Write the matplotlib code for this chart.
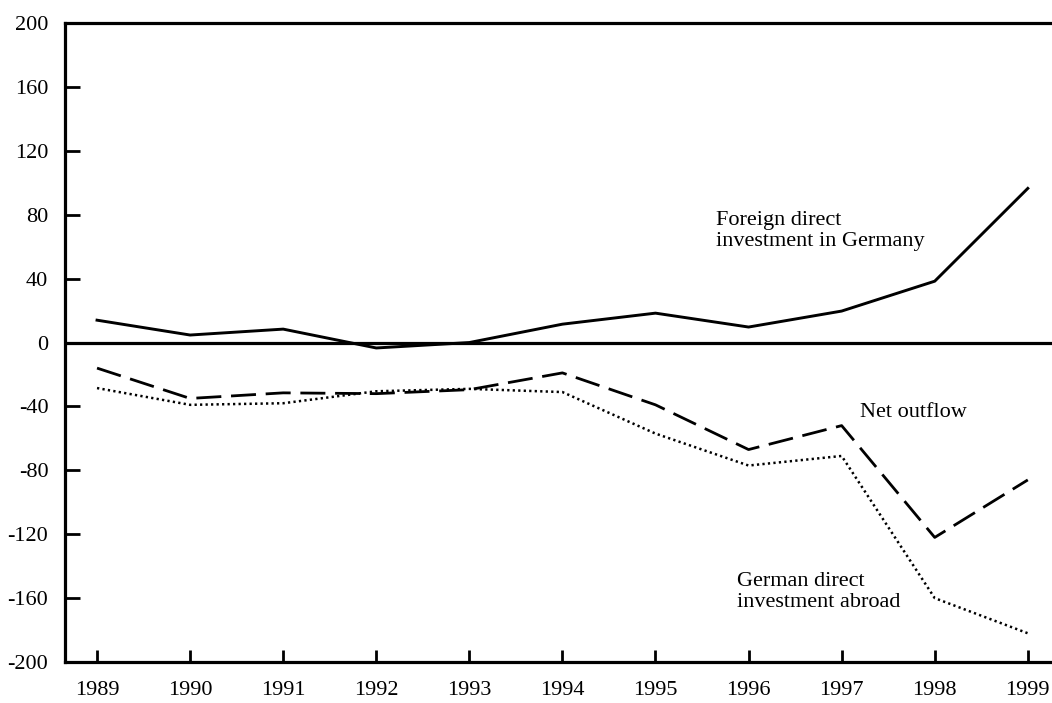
import matplotlib
matplotlib.use('Agg')
import matplotlib.pyplot as plt

# data (billions)
years = [1989, 1990, 1991, 1992, 1993, 1994, 1995, 1996, 1997, 1998, 1999]
foreign_in_germany = [14, 4.7, 8.4, -3.4, 0, 11.5, 18.4, 9.7, 19.7, 38.4, 96.5]
net_outflow = [-16, -35, -31.5, -32, -29.5, -19, -39, -67, -52, -122, -86]
german_abroad = [-28.5, -39, -38, -30.5, -29, -31, -57, -77, -71, -160, -182]
y_ticks = [-200, -160, -120, -80, -40, 0, 40, 80, 120, 160, 200]

plt.rcParams['font.family'] = ['Liberation Serif', 'DejaVu Serif']

fig = plt.figure(figsize=(10.52, 7.03), dpi=100)
ax = fig.add_axes([0.0618, 0.0583, 0.9382, 0.9089])

ax.plot(years, foreign_in_germany, color='black', lw=2.1)
ax.plot(years, net_outflow, color='black', lw=2.0, dashes=(9, 3.5))
ax.plot(years, german_abroad, color='black', lw=1.8, dashes=(0.9, 1.3))
ax.axhline(0, color='black', lw=2.3)

ax.set_xlim(1988.656, 1999.26)
ax.set_ylim(-200, 200)
ax.set_xticks(years)
ax.set_yticks(y_ticks)
ax.set_yticklabels([str(v) for v in y_ticks])

ax.tick_params(axis='x', direction='in', length=9, width=2, pad=14, labelsize=16)
ax.tick_params(axis='y', direction='in', length=11, width=2, pad=12, labelsize=16)

for side in ['left', 'bottom', 'top']:
    ax.spines[side].set_linewidth(2.3)
ax.spines['right'].set_visible(False)

ax.text(1995.65, 70, 'Foreign direct\ninvestment in Germany', fontsize=16,
        ha='left', va='center', linespacing=1.15)
ax.text(1997.2, -44, 'Net outflow', fontsize=16, ha='left', va='center')
ax.text(1995.88, -156, 'German direct\ninvestment abroad', fontsize=16,
        ha='left', va='center', linespacing=1.15)

fig.savefig('out.png', dpi=100)
